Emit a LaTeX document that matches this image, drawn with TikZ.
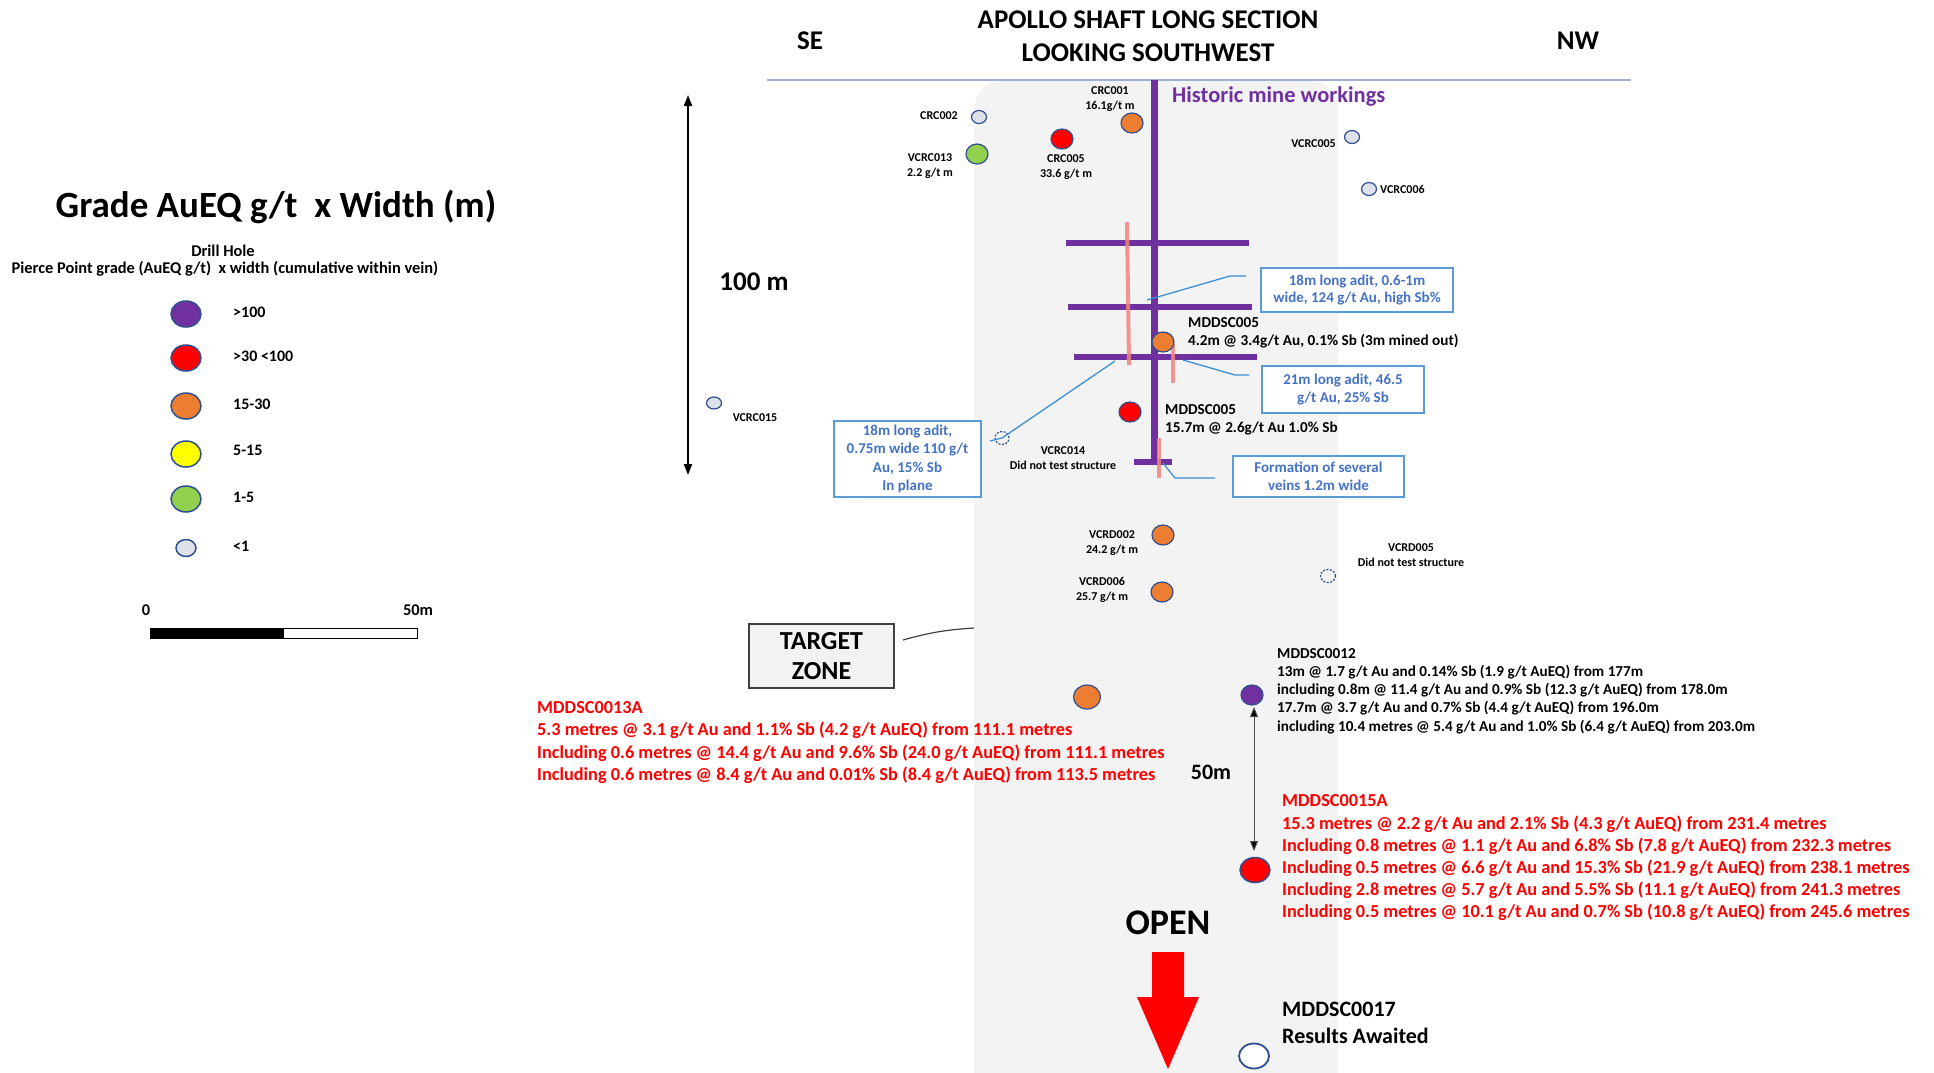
\documentclass[tikz,border=0pt]{standalone}
\usepackage{fontspec}
\setmainfont{Carlito}
\usetikzlibrary{arrows.meta,shapes.geometric}
\definecolor{mpurple}{HTML}{7030A0}
\definecolor{morange}{HTML}{ED7D31}
\definecolor{mred}{HTML}{FF0000}
\definecolor{mgreen}{HTML}{92D050}
\definecolor{myellow}{HTML}{FFFF00}
\definecolor{mlight}{HTML}{DCE1EA}
\definecolor{medge}{HTML}{2F4F8F}
\definecolor{bandgrey}{HTML}{F3F3F3}
\definecolor{topline}{HTML}{9DB1D3}
\definecolor{cbtext}{HTML}{4472C4}
\definecolor{cbedge}{HTML}{5B9BD5}
\definecolor{cbline}{HTML}{3B8FD4}
\definecolor{pinkv}{HTML}{F4837D}
\definecolor{tzfill}{HTML}{F2F2F2}
\definecolor{tzedge}{HTML}{404040}
\newcommand\myfs[2]{\fontsize{#1}{#2}\selectfont}
\tikzset{
  holebase/.style={ellipse, draw=medge, line width=1.2pt, inner sep=0pt},
  holeB/.style={holebase, minimum width=22pt, minimum height=20pt},
  holeS/.style={holebase, fill=mlight, minimum width=15pt, minimum height=13pt},
  holeD/.style={holebase, dash pattern=on 2pt off 1.5pt, fill=none, minimum width=15pt, minimum height=13pt},
  legcirc/.style={holebase, line width=1.5pt, minimum width=30pt, minimum height=26pt},
  sl/.style={inner sep=0pt, align=center, font=\bfseries\myfs{12}{14.5}},
  lg/.style={inner sep=0pt, align=center, font=\bfseries\myfs{16.4}{19}},
  lgl/.style={inner sep=0pt, anchor=west, font=\bfseries\myfs{16}{19}},
  blk/.style={inner sep=0pt, anchor=west, align=left, font=\bfseries\myfs{15.2}{18}},
  redblk/.style={inner sep=0pt, anchor=west, align=left, text=mred, font=\bfseries\myfs{18.3}{22.2}},
  callout/.style={draw=cbedge, line width=1.6pt, fill=white, inner sep=0pt, align=center, text=cbtext, font=\bfseries\myfs{15}{17.5}},
  cline/.style={draw=cbline, line width=1.3pt},
  shaft/.style={draw=mpurple, line width=7pt},
  xbar/.style={draw=mpurple, line width=6pt},
  pinkline/.style={draw=pinkv, line width=4pt, opacity=0.85},
  bigtxt/.style={inner sep=0pt, align=center, font=\bfseries\myfs{27}{33}},
  dblarrow/.style={line width=1.2pt, {Triangle[length=11pt,width=8pt]}-{Triangle[length=11pt,width=8pt]}}
}
\begin{document}
\begin{tikzpicture}[x=1pt,y=-1pt]
\useasboundingbox (0,0) rectangle (1934,1072);
\fill[white] (0,0) rectangle (1934,1072);

% grey band
\fill[bandgrey, rounded corners=30pt] (974,80) rectangle (1338,1120);
% top line
\coordinate (tl1) at (767,80);
\coordinate (tl2) at (1631,80);
\draw[topline, line width=2pt] (tl1) -- (tl2);

% title
\node[bigtxt] (title) at (1148,36.5) {APOLLO SHAFT LONG SECTION\\LOOKING SOUTHWEST};
\node[bigtxt] (se) at (810,41) {SE};
\node[bigtxt] (nw) at (1578,41) {NW};

% vertical 100 m scale
\coordinate (va1) at (688,95);
\coordinate (va2) at (688,475);
\draw[dblarrow, black, line width=2pt] (va1) -- (va2);
\node[bigtxt] (hundred) at (754,282) {100 m};

% legend
\node[inner sep=0pt, font=\bfseries\myfs{37}{41}] (lgtitle) at (276,207) {Grade AuEQ g/t \ x Width (m)};
\node[lg] (lgdrill) at (223,251) {Drill Hole};
\node[lg] (lgpierce) at (225,269) {Pierce Point grade (AuEQ g/t) \ x width (cumulative within vein)};
\node[legcirc, fill=mpurple] (lc1) at (186,314) {};
\node[legcirc, fill=mred] (lc2) at (186,358) {};
\node[legcirc, fill=morange] (lc3) at (186,406) {};
\node[legcirc, fill=myellow] (lc4) at (186,454) {};
\node[legcirc, fill=mgreen] (lc5) at (186,499) {};
\node[holebase, line width=1.5pt, fill=mlight, minimum width=20pt, minimum height=17pt] (lc6) at (186,548) {};
\node[lgl] (ll1) at (233,312) {>100};
\node[lgl] (ll2) at (233,356) {>30 <100};
\node[lgl] (ll3) at (233,404) {15-30};
\node[lgl] (ll4) at (233,450) {5-15};
\node[lgl] (ll5) at (233,497) {1-5};
\node[lgl] (ll6) at (233,546) {<1};
\node[lg] (sb0) at (146,610) {0};
\node[lg] (sb50) at (418,610) {50m};
\fill[black] (150,628) rectangle (284,638);
\draw[black, line width=1pt] (150,628) rectangle (417,638);

% shaft and workings
\coordinate (sh1) at (1154,80);
\coordinate (sh2) at (1154,462);
\draw[shaft] (sh1) -- (sh2);
\coordinate (xa1) at (1066,243); \coordinate (xa2) at (1249,243);
\coordinate (xb1) at (1068,307); \coordinate (xb2) at (1252,307);
\coordinate (xc1) at (1074,357); \coordinate (xc2) at (1257,357);
\coordinate (xd1) at (1134,462); \coordinate (xd2) at (1172,462);
\draw[xbar] (xa1) -- (xa2);
\draw[xbar] (xb1) -- (xb2);
\draw[xbar] (xc1) -- (xc2);
\draw[xbar] (xd1) -- (xd2);
\coordinate (pa1) at (1127,222); \coordinate (pa2) at (1129,365);
\coordinate (pb1) at (1173,344); \coordinate (pb2) at (1173,383);
\coordinate (pc1) at (1159,438); \coordinate (pc2) at (1159,478);
\draw[pinkline] (pa1) -- (pa2);
\draw[pinkline] (pb1) -- (pb2);
\draw[pinkline] (pc1) -- (pc2);
\node[inner sep=0pt, anchor=west, text=mpurple, font=\bfseries\myfs{22.5}{26}] (hmw) at (1172,97) {Historic mine workings};

% callouts
\node[callout, minimum width=192pt, minimum height=44pt] (cb1) at (1357,290) {18m long adit, 0.6-1m\\wide, 124 g/t Au, high Sb\%};
\node[callout, minimum width=162pt, minimum height=47pt] (cb2) at (1343,389.5) {21m long adit, 46.5\\g/t Au, 25\% Sb};
\node[callout, minimum width=171pt, minimum height=41pt] (cb3) at (1318.5,476.5) {Formation of several\\veins 1.2m wide};
\node[callout, minimum width=147pt, minimum height=76pt, font=\bfseries\myfs{15}{18.3}] (cb4) at (907.5,459) {18m long adit,\\0.75m wide 110 g/t\\Au, 15\% Sb\\In plane};
\coordinate (k1a) at (1147,300); \coordinate (k1b) at (1230,276); \coordinate (k1c) at (1246,276);
\coordinate (k2a) at (1183,360); \coordinate (k2b) at (1235,375); \coordinate (k2c) at (1249,375);
\coordinate (k3a) at (1163,463); \coordinate (k3b) at (1175,478); \coordinate (k3c) at (1215,478);
\coordinate (k4a) at (1115,361); \coordinate (k4c) at (990,441);
\draw[cline] (k1a) -- (k1b) -- (k1c);
\draw[cline] (k2a) -- (k2b) -- (k2c);
\draw[cline] (k3a) -- (k3b) -- (k3c);

% drill holes
\node[holeS] (crc002) at (979,117) {};
\node[holeB, fill=mgreen] (vcrc013) at (977,154) {};
\node[holeB, fill=mred] (crc005) at (1062,139) {};
\node[holeB, fill=morange] (crc001) at (1132,123) {};
\node[holeS] (vcrc005) at (1352,137) {};
\node[holeS] (vcrc006) at (1369,189) {};
\node[holeB, fill=morange] (mdd005a) at (1163,342) {};
\node[holeB, fill=mred] (mdd005b) at (1130,412) {};
\node[holeD, minimum width=14pt, minimum height=13pt] (vcrc014) at (1002,438) {};
\draw[cline] (k4a) -- (vcrc014.center) -- (k4c);
\node[holeS, minimum height=12pt] (vcrc015) at (714,403) {};
\node[holeB, fill=morange] (vcrd002) at (1163,535) {};
\node[holeB, fill=morange] (vcrd006) at (1162,592) {};
\node[holeD] (vcrd005) at (1328,576) {};
\node[holeB, fill=morange, minimum width=27pt, minimum height=24pt] (mdd13) at (1087,697) {};
\node[holeB, fill=mpurple] (mdd12) at (1252,695) {};
\node[holeB, fill=mred, line width=1.5pt, minimum width=30pt, minimum height=25pt] (mdd15) at (1255,870) {};
\node[holeB, fill=white, line width=1.8pt, minimum width=30pt, minimum height=25pt] (mdd17) at (1254,1056) {};

% small labels
\node[sl, anchor=east] (tcrc002) at (958,116) {CRC002};
\node[sl] (tvcrc013) at (930,166) {VCRC013\\2.2 g/t m};
\node[sl] (tcrc005) at (1066,167) {CRC005\\33.6 g/t m};
\node[sl] (tcrc001) at (1110,99) {CRC001\\16.1g/t m};
\node[sl, anchor=east] (tvcrc005) at (1336,144) {VCRC005};
\node[sl, anchor=west] (tvcrc006) at (1380,189) {VCRC006};
\node[sl] (tvcrc015) at (755,418) {VCRC015};
\node[sl] (tvcrc014) at (1063,458) {VCRC014\\Did not test structure};
\node[sl] (tvcrd002) at (1112,543) {VCRD002\\24.2 g/t m};
\node[sl] (tvcrd006) at (1102,590) {VCRD006\\25.7 g/t m};
\node[sl] (tvcrd005) at (1411,555) {VCRD005\\Did not test structure};

% MDDSC005 labels
\node[blk] (tmdd005a) at (1188,333) {MDDSC005\\4.2m @ 3.4g/t Au, 0.1\% Sb (3m mined out)};
\node[blk] (tmdd005b) at (1165,420) {MDDSC005\\15.7m @ 2.6g/t Au 1.0\% Sb};

% target zone
\node[draw=tzedge, fill=tzfill, line width=1.5pt, minimum width=145pt, minimum height=64pt, inner sep=0pt, align=center, font=\bfseries\myfs{26}{30}] (tz) at (821.5,656) {TARGET\\ZONE};
\coordinate (tzc1) at (903,640);
\coordinate (tzc2) at (974,628);
\draw[tzedge, line width=1.2pt] (tzc1) to[bend left=6] (tzc2);

% MDDSC0013A
\node[redblk] (tmdd13) at (537,742.5) {MDDSC0013A\\5.3 metres @ 3.1 g/t Au and 1.1\% Sb (4.2 g/t AuEQ) from 111.1 metres\\Including 0.6 metres @ 14.4 g/t Au and 9.6\% Sb (24.0 g/t AuEQ) from 111.1 metres\\Including 0.6 metres @ 8.4 g/t Au and 0.01\% Sb (8.4 g/t AuEQ) from 113.5 metres};

% MDDSC0012
\node[blk, font=\bfseries\myfs{15.2}{18.2}] (tmdd12) at (1277,691) {MDDSC0012\\13m @ 1.7 g/t Au and 0.14\% Sb (1.9 g/t AuEQ) from 177m\\including 0.8m @ 11.4 g/t Au and 0.9\% Sb (12.3 g/t AuEQ) from 178.0m\\17.7m @ 3.7 g/t Au and 0.7\% Sb (4.4 g/t AuEQ) from 196.0m\\including 10.4 metres @ 5.4 g/t Au and 1.0\% Sb (6.4 g/t AuEQ) from 203.0m};

% 50m arrow
\coordinate (a50t) at (1254,707);
\coordinate (a50b) at (1254,851);
\draw[draw=black!70, line width=1pt, {Triangle[length=10pt,width=8pt,fill=black]}-{Triangle[length=10pt,width=8pt,fill=black]}] (a50t) -- (a50b);
\node[inner sep=0pt, font=\bfseries\myfs{22}{26}] (t50) at (1211,772) {50m};

% MDDSC0015A
\node[redblk] (tmdd15) at (1282,858) {MDDSC0015A\\15.3 metres @ 2.2 g/t Au and 2.1\% Sb (4.3 g/t AuEQ) from 231.4 metres\\Including 0.8 metres @ 1.1 g/t Au and 6.8\% Sb (7.8 g/t AuEQ) from 232.3 metres\\Including 0.5 metres @ 6.6 g/t Au and 15.3\% Sb (21.9 g/t AuEQ) from 238.1 metres\\Including 2.8 metres @ 5.7 g/t Au and 5.5\% Sb (11.1 g/t AuEQ) from 241.3 metres\\Including 0.5 metres @ 10.1 g/t Au and 0.7\% Sb (10.8 g/t AuEQ) from 245.6 metres};

% OPEN
\node[inner sep=0pt, font=\bfseries\myfs{36}{40}] (open) at (1168,923) {OPEN};
\fill[mred] (1152,952) -- (1184,952) -- (1184,997) -- (1199,997) -- (1168,1069) -- (1137,997) -- (1152,997) -- cycle;

% MDDSC0017
\node[inner sep=0pt, anchor=west, align=left, font=\bfseries\myfs{22}{27}] (tmdd17) at (1282,1022.5) {MDDSC0017\\Results Awaited};
\end{tikzpicture}
\end{document}
